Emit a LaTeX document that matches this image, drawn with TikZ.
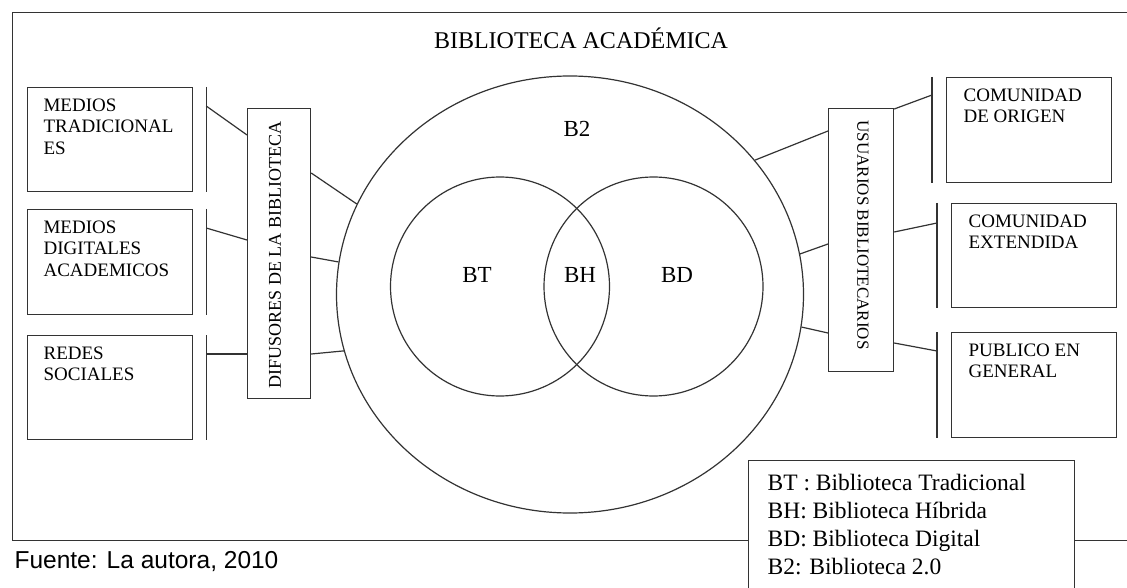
\documentclass[tikz,border=0pt]{standalone}
\usepackage{fontspec}
\setmainfont{Liberation Serif}
\newfontfamily\fuentefont{Liberation Sans}
\usetikzlibrary{shapes.geometric}

\begin{document}
\begin{tikzpicture}[
                            x=1pt, y=-1pt,
                            line width=1.2pt,
                            caja/.style={rectangle, draw=black!80, inner sep=0pt, minimum width=165, minimum height=105, anchor=north west},
                            barra/.style={draw=black!80},
                            texto/.style={anchor=north west, align=left, inner sep=0pt, font=\fontsize{19}{21.5}\selectfont},
                            etiqueta/.style={inner sep=0pt, font=\fontsize{23}{26}\selectfont},
                            vertical/.style={rectangle, draw=black!80, inner sep=0pt, anchor=north west},
                            linea/.style={draw=black!80}
                        ]
                        \useasboundingbox (0,0) rectangle (1127,588);
                        \clip (0,0) rectangle (1127,588);
                        \fill[white] (0,0) rectangle (1127,588);

                        % Marco
                        \node [rectangle, draw=black!80, minimum width=1130, minimum height=528, anchor=north west] (marco) at (12,12) {};
                        \node [inner sep=0pt, font=\fontsize{24}{28}\selectfont] (titulo) at (581,38) {BIBLIOTECA ACADÉMICA};

                        % Circulos
                        \node [ellipse, draw=black!80, inner sep=0pt, minimum width=467, minimum height=437] (b2) at (570,294.5) {};
                        \node [circle, draw=black!80, inner sep=0pt, minimum size=219] (bt) at (500,286.5) {};
                        \node [circle, draw=black!80, inner sep=0pt, minimum size=219] (bd) at (653.5,286.5) {};
                        \node [etiqueta] (lb2) at (577,129) {B2};
                        \node [etiqueta] (lbt) at (477,275) {BT};
                        \node [etiqueta] (lbh) at (580,275) {BH};
                        \node [etiqueta] (lbd) at (677,275) {BD};

                        % Blocks izquierda
                        \node [caja, minimum height=104] (mt) at (27,87) {};
                        \node [caja] (md) at (27,209) {};
                        \node [caja, minimum height=104] (rs) at (27,335) {};
                        \node [texto] (mt-t) at ([xshift=16,yshift=-11]mt.north west) {MEDIOS\\TRADICIONAL\\ES};
                        \node [texto] (md-t) at ([xshift=16,yshift=-11]md.north west) {MEDIOS\\DIGITALES\\ACADEMICOS};
                        \node [texto] (rs-t) at ([xshift=16,yshift=-11]rs.north west) {REDES\\SOCIALES};
                        \node [vertical, minimum width=63, minimum height=290] (dif) at (247,108) {};
                        \node [rotate=90, inner sep=0pt, font=\fontsize{18}{21}\selectfont] (dif-t) at (275,255) {DIFUSORES DE LA BIBLIOTECA};

                        % Blocks derecha
                        \node [vertical, minimum width=65, minimum height=263] (usu) at (828,108) {};
                        \node [rotate=-90, inner sep=0pt, font=\fontsize{17}{21}\selectfont] (usu-t) at (863,235) {USUARIOS BIBLIOTECARIOS};
                        \node [caja] (co) at (946,77) {};
                        \node [caja, minimum height=104] (ce) at (951,203) {};
                        \node [caja] (pg) at (951,332) {};
                        \node [texto] (co-t) at ([xshift=17,yshift=-11]co.north west) {COMUNIDAD\\DE ORIGEN};
                        \node [texto] (ce-t) at ([xshift=17,yshift=-11]ce.north west) {COMUNIDAD\\EXTENDIDA};
                        \node [texto] (pg-t) at ([xshift=17,yshift=-11]pg.north west) {PUBLICO EN\\GENERAL};

                        % Barras
                        \coordinate (bmt1) at ([xshift=13]mt.north east);
                        \coordinate (bmt2) at ([xshift=13]mt.south east);
                        \coordinate (bmd1) at ([xshift=13]md.north east);
                        \coordinate (bmd2) at ([xshift=13]md.south east);
                        \coordinate (brs1) at ([xshift=13]rs.north east);
                        \coordinate (brs2) at ([xshift=13]rs.south east);
                        \coordinate (bco1) at ([xshift=-14]co.north west);
                        \coordinate (bco2) at ([xshift=-14]co.south west);
                        \coordinate (bce1) at ([xshift=-14]ce.north west);
                        \coordinate (bce2) at ([xshift=-14]ce.south west);
                        \coordinate (bpg1) at ([xshift=-14]pg.north west);
                        \coordinate (bpg2) at ([xshift=-14]pg.south west);
                        \foreach \b in {mt,md,rs,co,ce,pg}
                            \draw [barra] (b\b1) -- (b\b2);

                        % Connections
                        \draw [linea] ([yshift=-19]bmt1) -- ([yshift=-27]dif.north west);
                        \draw [linea] ([yshift=-19]bmd1) -- ([yshift=-132]dif.north west);
                        \draw [linea] ([yshift=-19]brs1) -- ([yshift=-246]dif.north west);
                        \draw [linea] ([yshift=-65]dif.north east) -- (b2.157.7);
                        \draw [linea] ([yshift=-149]dif.north east) -- (b2.172.7);
                        \draw [linea] ([yshift=-246]dif.north east) -- (b2.194.7);
                        \draw [linea] (b2.36.5) -- ([yshift=-23]usu.north west);
                        \draw [linea] (b2.10.6) -- ([yshift=-136]usu.north west);
                        \draw [linea] (b2.352) -- ([yshift=-225]usu.north west);
                        \draw [linea] ([yshift=-1]usu.north east) -- ([yshift=-18]bco1);
                        \draw [linea] ([yshift=-124]usu.north east) -- ([yshift=-20]bce1);
                        \draw [linea] ([yshift=-235]usu.north east) -- ([yshift=-19]bpg1);

                        % Leyenda
                        \node [rectangle, draw=black!80, fill=white, minimum width=326, minimum height=160, anchor=north west] (ley) at (748,460) {};
                        \node [anchor=north west, align=left, inner sep=0pt, font=\fontsize{23.5}{28}\selectfont] (ley-t) at ([xshift=19,yshift=-14]ley.north west) {BT : Biblioteca Tradicional\\BH: Biblioteca Híbrida\\BD: Biblioteca Digital\\B2: Biblioteca 2.0};
                        \node [anchor=west, inner sep=0pt, font=\fuentefont\fontsize{24.5}{28}\selectfont] (fuente) at (14,561.5) {Fuente: La autora, 2010};
                    \end{tikzpicture}
\end{document}
